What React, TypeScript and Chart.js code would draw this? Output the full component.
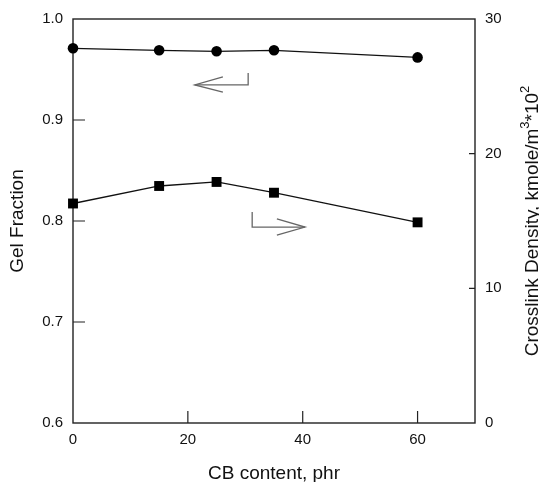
import React, { useEffect, useRef } from "react";
import { Chart, registerables } from "chart.js";

Chart.register(...registerables);

// ---- data ----
const cbContent = [0, 15, 25, 35, 60];
const gelFraction = [0.971, 0.969, 0.968, 0.969, 0.962];
const crosslinkDensity = [16.3, 17.6, 17.9, 17.1, 14.9];

const xTicks = [0, 20, 40, 60];
const leftTicks = [0.6, 0.7, 0.8, 0.9, 1.0];
const rightTicks = [0, 10, 20, 30];

// arrow annotations in data coordinates (x: phr, y: gel fraction)
const leftArrowBody = [[30.5, 0.9465], [30.5, 0.9347], [21.2, 0.9347]];
const leftArrowHead = [[26.1, 0.9426], [21.2, 0.9347], [26.1, 0.9277]];
const rightArrowBody = [[31.2, 0.809], [31.2, 0.794], [40.4, 0.794]];
const rightArrowHead = [[35.5, 0.802], [40.4, 0.794], [35.5, 0.786]];

const xTitle = "CB content, phr";
const leftTitle = "Gel Fraction";
const FONT = "'Liberation Sans', Arial, Helvetica, sans-serif";

const framePlugin = {
  id: "framePlugin",
  beforeDatasetsDraw(chart: any) {
    const { ctx, chartArea: a, scales } = chart;
    ctx.save();
    ctx.strokeStyle = "#222";
    ctx.lineWidth = 1.4;
    ctx.strokeRect(a.left, a.top, a.right - a.left, a.bottom - a.top);
    ctx.lineWidth = 1.2;
    ctx.beginPath();
    for (const v of xTicks) {
      const px = scales.x.getPixelForValue(v);
      if (Math.abs(px - a.left) < 2 || Math.abs(px - a.right) < 2) continue;
      ctx.moveTo(px, a.bottom);
      ctx.lineTo(px, a.bottom - 12);
    }
    for (const v of leftTicks) {
      const py = scales.yL.getPixelForValue(v);
      if (Math.abs(py - a.top) < 2 || Math.abs(py - a.bottom) < 2) continue;
      ctx.moveTo(a.left, py);
      ctx.lineTo(a.left + 12, py);
    }
    for (const v of rightTicks) {
      const py = scales.yR.getPixelForValue(v);
      if (Math.abs(py - a.top) < 2 || Math.abs(py - a.bottom) < 2) continue;
      ctx.moveTo(a.right, py);
      ctx.lineTo(a.right - 6, py);
    }
    ctx.stroke();

    // arrows
    ctx.strokeStyle = "#666";
    ctx.lineWidth = 1.3;
    const poly = (pts: number[][]) => {
      ctx.beginPath();
      pts.forEach((p, i) => {
        const px = scales.x.getPixelForValue(p[0]);
        const py = scales.yL.getPixelForValue(p[1]);
        if (i === 0) ctx.moveTo(px, py);
        else ctx.lineTo(px, py);
      });
      ctx.stroke();
    };
    poly(leftArrowBody);
    poly(leftArrowHead);
    poly(rightArrowBody);
    poly(rightArrowHead);
    ctx.restore();
  },
  afterDraw(chart: any) {
    const { ctx, chartArea: a, width, height } = chart;
    ctx.save();
    ctx.fillStyle = "#111";
    ctx.textBaseline = "alphabetic";
    const big = `19px ${FONT}`;
    const small = `13px ${FONT}`;
    // x title
    ctx.font = big;
    ctx.textAlign = "center";
    ctx.fillText(xTitle, (a.left + a.right) / 2, height - 3);
    // left title
    const cy = (a.top + a.bottom) / 2;
    ctx.save();
    ctx.translate(23, cy);
    ctx.rotate(-Math.PI / 2);
    ctx.fillText(leftTitle, 0, 0);
    ctx.restore();
    // right title with superscripts
    const parts: [string, boolean][] = [
      ["Crosslink Density, kmole/m", false],
      ["3", true],
      ["*10", false],
      ["2", true],
    ];
    let total = 0;
    const widths = parts.map(([t, sup]) => {
      ctx.font = sup ? small : big;
      const w = ctx.measureText(t).width;
      total += w;
      return w;
    });
    ctx.save();
    ctx.translate(width - 1, cy);
    ctx.rotate(-Math.PI / 2);
    ctx.textAlign = "left";
    let x = -total / 2;
    parts.forEach(([t, sup], i) => {
      ctx.font = sup ? small : big;
      ctx.fillText(t, x, sup ? -9 : 0);
      x += widths[i];
    });
    ctx.restore();
    ctx.restore();
  },
};

export default function App() {
  const ref = useRef<HTMLCanvasElement>(null);
  useEffect(() => {
    if (!ref.current) return;
    const tickFont = { family: FONT, size: 15 };
    const chart = new Chart(ref.current, {
      type: "line",
      data: {
        datasets: [
          {
            label: "Gel Fraction",
            data: cbContent.map((x, i) => ({ x, y: gelFraction[i] })),
            yAxisID: "yL",
            borderColor: "#111",
            backgroundColor: "#000",
            borderWidth: 1.3,
            pointStyle: "circle",
            pointRadius: 5.3,
            pointBorderWidth: 0,
            tension: 0,
            clip: false,
          },
          {
            label: "Crosslink Density",
            data: cbContent.map((x, i) => ({ x, y: crosslinkDensity[i] })),
            yAxisID: "yR",
            borderColor: "#111",
            backgroundColor: "#000",
            borderWidth: 1.3,
            pointStyle: "rect",
            pointRadius: 7,
            pointBorderWidth: 0,
            tension: 0,
            clip: false,
          },
        ],
      },
      options: {
        animation: false,
        responsive: false,
        layout: { padding: { top: 19, left: 0, right: 0, bottom: 0 } },
        plugins: { legend: { display: false }, tooltip: { enabled: false } },
        scales: {
          x: {
            type: "linear",
            position: "bottom",
            min: 0,
            max: 70,
            grid: { display: false, drawTicks: false },
            border: { display: false },
            afterBuildTicks: (s: any) => {
              s.ticks = xTicks.map((v) => ({ value: v }));
            },
            afterFit: (s: any) => {
              s.height = 59;
            },
            ticks: {
              padding: 8,
              font: tickFont,
              color: "#111",
              maxRotation: 0,
              callback: (v: any) => String(v),
            },
          },
          yL: {
            type: "linear",
            position: "left",
            min: 0.6,
            max: 1.0,
            grid: { display: false, drawTicks: false },
            border: { display: false },
            afterBuildTicks: (s: any) => {
              s.ticks = leftTicks.map((v) => ({ value: v }));
            },
            afterFit: (s: any) => {
              s.width = 73;
            },
            ticks: {
              padding: 10,
              font: tickFont,
              color: "#111",
              callback: (v: any) => Number(v).toFixed(1),
            },
          },
          yR: {
            type: "linear",
            position: "right",
            min: 0,
            max: 30,
            grid: { display: false, drawTicks: false },
            border: { display: false },
            afterBuildTicks: (s: any) => {
              s.ticks = rightTicks.map((v) => ({ value: v }));
            },
            afterFit: (s: any) => {
              s.width = 64;
            },
            ticks: {
              padding: 10,
              font: tickFont,
              color: "#111",
              callback: (v: any) => String(v),
            },
          },
        },
      },
      plugins: [framePlugin],
    } as any);
    return () => chart.destroy();
  }, []);
  return (
    <div style={{ position: "absolute", left: 0, top: 0, width: 539, height: 482, background: "#fff" }}>
      <canvas ref={ref} width={539} height={482} style={{ display: "block" }} />
    </div>
  );
}
